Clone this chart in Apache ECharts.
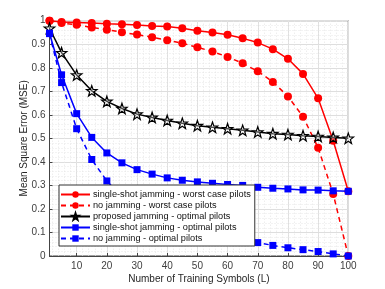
<!DOCTYPE html>
<html><head><meta charset="utf-8">
<script src="https://cdn.jsdelivr.net/npm/echarts@6/dist/echarts.min.js"></script>
<style>html,body{margin:0;padding:0;background:#fff}#c{width:385px;height:289px}</style>
</head><body><div id="c"></div>
<script>
const xVals = [1,5,10,15,20,25,30,35,40,45,50,55,60,65,70,75,80,85,90,95,100];
const singleShotWorst = [1.0,0.994,0.992,0.99,0.987,0.985,0.982,0.978,0.975,0.968,0.957,0.95,0.94,0.925,0.907,0.879,0.838,0.774,0.67,0.49,0.275];
const noJamWorst = [1.0,0.99,0.983,0.971,0.962,0.951,0.941,0.93,0.917,0.904,0.887,0.869,0.846,0.819,0.785,0.74,0.678,0.592,0.46,0.264,0.0];
const proposedOptimal = [0.968,0.864,0.769,0.702,0.657,0.627,0.603,0.589,0.576,0.564,0.554,0.547,0.541,0.534,0.527,0.52,0.516,0.511,0.508,0.504,0.5];
const singleShotOptimal = [0.947,0.77,0.605,0.504,0.438,0.396,0.367,0.348,0.332,0.322,0.315,0.309,0.304,0.3,0.292,0.288,0.285,0.281,0.28,0.277,0.275];
const noJamOptimal = [0.945,0.737,0.541,0.41,0.319,0.25,0.2,0.165,0.14,0.12,0.103,0.09,0.078,0.067,0.057,0.045,0.035,0.027,0.019,0.009,0.0];
const xTicks = [10,20,30,40,50,60,70,80,90,100];
const names = ['single-shot jamming - worst case pilots','no jamming - worst case pilots','proposed jamming - optimal pilots','single-shot jamming - optimal pilots','no jamming - optimal pilots'];

const xMinor = [];
for (let v = 2; v < 100; v += 2) xMinor.push(v);
const pair = ys => xVals.map((x,i)=>[x, ys[i]]);
const star = 'path://M0,-10L2.35,-3.24L9.51,-3.09L3.8,1.24L5.88,8.09L0,4L-5.88,8.09L-3.8,1.24L-9.51,-3.09L-2.35,-3.24Z';
const font = 'Liberation Sans, Arial, sans-serif';
const txt = '#262626';

const chart = echarts.init(document.getElementById('c'), null, {renderer:'canvas'});
chart.setOption({
  animation:false,
  backgroundColor:'#fff',
  textStyle:{fontFamily:font},
  grid:{left:49.5,right:36.7,top:20.7,bottom:32.3,show:true,borderColor:'#444',borderWidth:1,backgroundColor:'#fff'},
  legend:{
    orient:'vertical', left:59, top:185, data:names, z:20,
    backgroundColor:'#fff', borderColor:'#333', borderWidth:1, borderRadius:0,
    padding:[4,4,2,1], itemWidth:29, itemHeight:8, itemGap:0,
    textStyle:{fontSize:9.2, color:'#111', lineHeight:11, fontFamily:font, padding:[0,0,0,-2]}
  },
  xAxis:[{
    type:'value', min:1, max:100,
    name:'Number of Training Symbols (L)', nameLocation:'middle', nameGap:18, nameMoveOverlap:false,
    nameTextStyle:{fontSize:10, color:txt},
    axisLine:{lineStyle:{color:'#444'}},
    axisTick:{inside:true,length:3,customValues:xTicks,lineStyle:{color:'#444'}},
    axisLabel:{customValues:xTicks,fontSize:10,color:'#404040',margin:5},
    splitLine:{show:true,lineStyle:{color:'#dedede',width:1}}
  },{
    type:'value', min:1, max:100, position:'bottom',
    axisLine:{show:false}, axisTick:{show:false,customValues:xMinor}, axisLabel:{show:false,customValues:xMinor},
    splitLine:{show:true,lineStyle:{color:'#e6e6e6',type:[1,2],width:1}}
  }],
  yAxis:{
    type:'value', min:0, max:1, interval:0.1,
    name:'Mean Square Error (MSE)', nameLocation:'middle', nameGap:20, nameMoveOverlap:false,
    nameTextStyle:{fontSize:10, color:txt},
    axisLine:{show:true,lineStyle:{color:'#444'}},
    axisTick:{inside:true,length:3,lineStyle:{color:'#444'}},
    axisLabel:{fontSize:10,color:'#404040',margin:4,formatter:v=>v===0?'0':v===1?'1':v.toFixed(1)},
    splitLine:{show:true,lineStyle:{color:'#dedede'}},
    minorTick:{show:false,splitNumber:5},
    minorSplitLine:{show:true,lineStyle:{color:'#e6e6e6',type:[1,2]}}
  },
  series:[
    {name:names[0],type:'line',data:pair(singleShotWorst),symbol:'circle',symbolSize:8,
     lineStyle:{color:'#ff0000',width:1.5},itemStyle:{color:'#ff0000'},z:2},
    {name:names[1],type:'line',data:pair(noJamWorst),symbol:'circle',symbolSize:8,
     lineStyle:{color:'#ff0000',width:1.5,type:[5,4]},itemStyle:{color:'#ff0000'},z:2},
    {name:names[2],type:'line',data:pair(proposedOptimal),symbol:star,symbolSize:10.5,
     lineStyle:{color:'#000',width:1.5},itemStyle:{color:'rgba(255,255,255,0.3)',borderColor:'#000',borderWidth:1.2},z:3},
    {name:names[3],type:'line',data:pair(singleShotOptimal),symbol:'rect',symbolSize:7,
     lineStyle:{color:'#0000ff',width:1.5},itemStyle:{color:'#0000ff'},z:4},
    {name:names[4],type:'line',data:pair(noJamOptimal),symbol:'rect',symbolSize:7,
     lineStyle:{color:'#0000ff',width:1.5,type:[5,4]},itemStyle:{color:'#0000ff'},z:4}
  ]
});
</script></body></html>
